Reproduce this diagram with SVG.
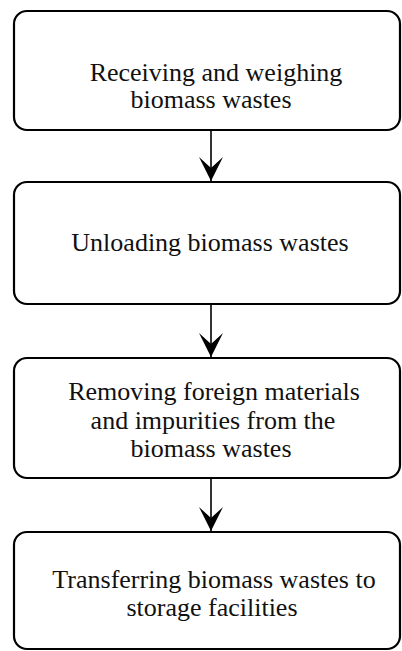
<svg xmlns="http://www.w3.org/2000/svg" width="402" height="651" viewBox="0 0 402 651">
<style>
.box{fill:#fff;stroke:#000;stroke-width:2.2}
.t{font-family:"Liberation Serif","Times New Roman",serif;font-size:26px;fill:#111;text-anchor:middle}
.c{stroke:#000;stroke-width:1.6;fill:none}
</style>
<defs>
<marker id="ah" markerUnits="userSpaceOnUse" markerWidth="26" markerHeight="26" refX="24" refY="12" orient="auto" viewBox="0 0 26 24">
<path d="M0,0 L24,12 L0,24 L11,12 Z" fill="#000"/>
</marker>
</defs>
<rect width="402" height="651" fill="#fff"/>
<g id="n1"><rect class="box" x="14" y="11" width="386" height="119" rx="13"/>
<text class="t" x="216" y="81">Receiving and weighing</text>
<text class="t" x="211" y="108">biomass wastes</text></g>
<g id="n2"><rect class="box" x="14" y="182" width="386" height="122" rx="13"/>
<text class="t" x="210" y="251">Unloading biomass wastes</text></g>
<g id="n3"><rect class="box" x="14" y="358" width="386" height="120" rx="13"/>
<text class="t" x="214" y="400">Removing foreign materials</text>
<text class="t" x="213" y="429">and impurities from the</text>
<text class="t" x="211" y="457">biomass wastes</text></g>
<g id="n4"><rect class="box" x="14" y="532" width="386" height="117" rx="13"/>
<text class="t" x="214" y="588">Transferring biomass wastes to</text>
<text class="t" x="212" y="616">storage facilities</text></g>
<g id="connectors">
<line class="c" x1="211" y1="130" x2="211" y2="181" marker-end="url(#ah)"/>
<line class="c" x1="211" y1="304" x2="211" y2="357" marker-end="url(#ah)"/>
<line class="c" x1="211" y1="478" x2="211" y2="531" marker-end="url(#ah)"/>
</g>
</svg>
